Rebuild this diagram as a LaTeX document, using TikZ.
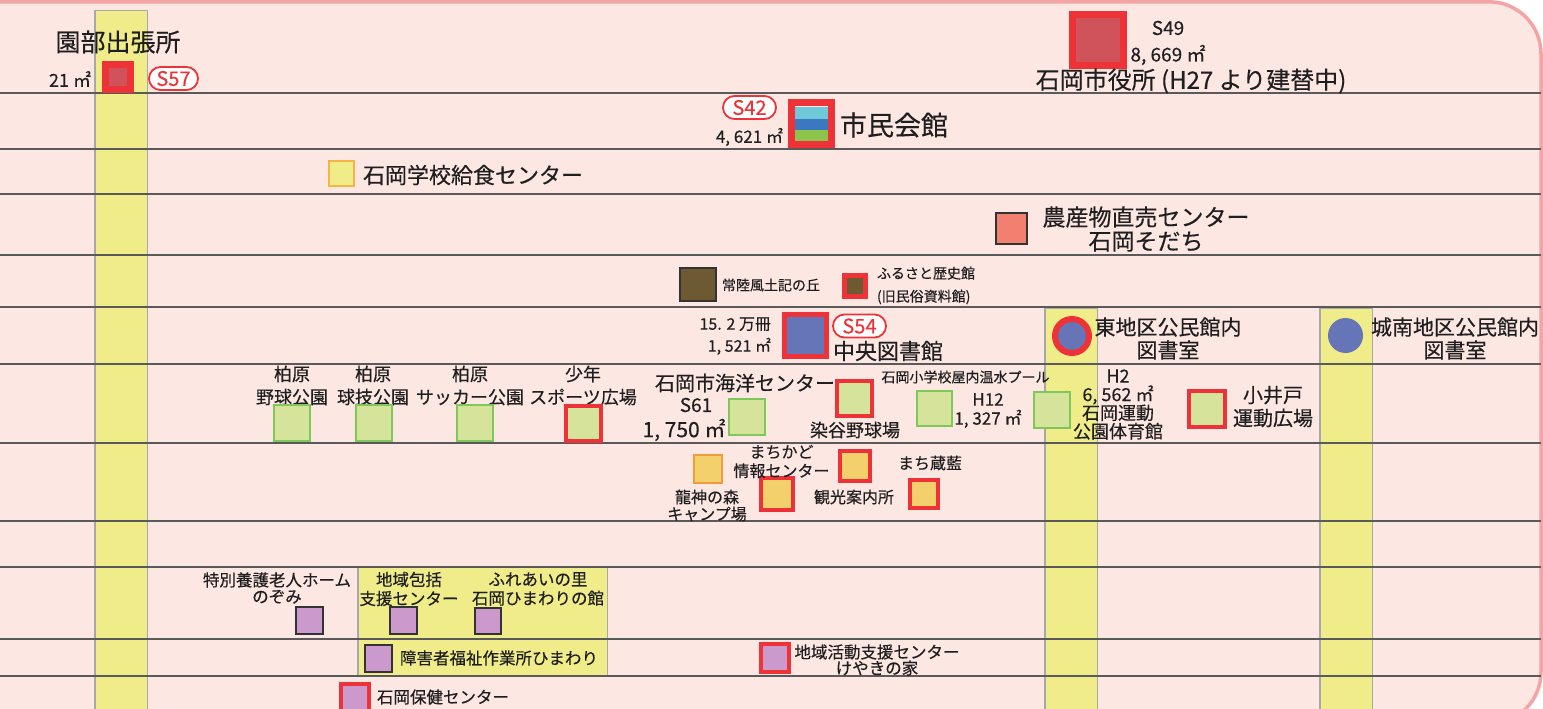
\documentclass[tikz,border=0pt]{standalone}
\usepackage{fontspec}
\setmainfont{Noto Sans CJK JP}[FakeBold=0.35]
\usepackage{xcolor}
\usepackage{tikz}
\usetikzlibrary{shapes.geometric}

\definecolor{bgpink}{HTML}{FCE7E3}
\definecolor{edgepink}{HTML}{F4A4A4}
\definecolor{gridgray}{HTML}{5A5A5A}
\definecolor{colyellow}{HTML}{F0EC8A}
\definecolor{colgray}{HTML}{A8A8A8}
\definecolor{mred}{HTML}{EE3338}
\definecolor{dred}{HTML}{D0525A}
\definecolor{lgreen}{HTML}{D6E49B}
\definecolor{mgreen}{HTML}{7DC75B}
\definecolor{gold}{HTML}{F3D06C}
\definecolor{morange}{HTML}{F39A3A}
\definecolor{lorange}{HTML}{F5B540}
\definecolor{mpurple}{HTML}{CC99CC}
\definecolor{dbrown}{HTML}{6E5A32}
\definecolor{lblue}{HTML}{6674B8}
\definecolor{salmon}{HTML}{F28070}
\definecolor{scyan}{HTML}{6ECAD8}
\definecolor{sblue}{HTML}{3B78C0}
\definecolor{sgreen}{HTML}{8CC44C}
\definecolor{darkedge}{HTML}{333333}

\begin{document}
\begin{tikzpicture}[x=1pt,y=-1pt,
	every node/.style={inner sep=0pt,outer sep=0pt,text=black!88},
	lbl/.style={font=\fontsize{#1}{#1}\selectfont,align=center},
	lbls/.style 2 args={font=\fontsize{#1}{#2}\selectfont,align=center},
	sqr/.style={draw,line width=2pt,minimum size=#1},
	redsqr/.style={draw=mred,line width=4pt,minimum size=#1},
	badge/.style={draw=mred,fill=white,line width=1.8pt,rounded corners=11.5pt,text=mred,
		font=\fontsize{20}{20}\selectfont,minimum width=#1,minimum height=23pt},
	gridline/.style={draw=gridgray,line width=2pt},
	column/.style={draw=colgray,fill=colyellow,line width=1.5pt}]
	\useasboundingbox (0,0) rectangle (1543,709);
	\clip (0,0) rectangle (1543,709);
	\fill[white] (0,0) rectangle (1543,709);
	\draw[edgepink,line width=3.5pt,fill=bgpink,rounded corners=52pt] (-80,1.8) rectangle (1541,724);
	% yellow bands
	\draw[column] (94.75,10.75) rectangle (147.25,730);
	\draw[column] (1044.75,308) rectangle (1097.25,730);
	\draw[column] (1319.75,308) rectangle (1372.25,730);
	\draw[column] (357.75,567) rectangle (607.25,676);
	\foreach \y in {93,149,194,255,307,364,443,521,567,639,676}
		\draw[gridline] (0,\y) -- (1541,\y);

	% row 1
	\node[lbl=25] (sonobe) at (118,42) {園部出張所};
	\node[lbl=18,anchor=east] (sonobeArea) at (91,79) {21 ㎡};
	\node[sqr=25,draw=mred,line width=7pt,fill=dred] (sonobeBox) at (118,77) {};
	\node[badge=49] (s57) at (173.5,78.5) {S57};
	\node[sqr=51,draw=mred,line width=7pt,fill=dred] (cityhallBox) at (1098,40) {};
	\node[lbl=19] (s49) at (1168,28) {S49};
	\node[lbl=19] (cityhallArea) at (1168,55) {8, 669 ㎡};
	\node[lbl=24] (cityhall) at (1191,81) {石岡市役所 (H27 より建替中)};

	% row 2
	\node[badge=53] (s42) at (749.5,107.5) {S42};
	\node[lbl=17,anchor=east] (civicArea) at (783,137) {4, 621 ㎡};
	\fill[scyan] (795,107) rectangle (828,119);
	\fill[sblue] (795,119) rectangle (828,130);
	\fill[sgreen] (795,130) rectangle (828,141);
	\node[draw=mred,line width=7pt,minimum width=40pt,minimum height=42pt] (civicBox) at (811.5,123.5) {};
	\node[lbl=27,anchor=west] (civic) at (840,125) {市民会館};

	% row 3
	\node[sqr=25,draw=lorange,fill=colyellow] (kyushokuBox) at (341.5,173.5) {};
	\node[lbl=22,anchor=west] (kyushoku) at (363,175) {石岡学校給食センター};

	% row 4
	\node[sqr=31,draw=darkedge,fill=salmon] (sodachiBox) at (1011.5,228.5) {};
	\node[lbls={23}{24}] (sodachi) at (1146,229) {農産物直売センター\\石岡そだち};

	% row 5
	\node[draw=darkedge,line width=2pt,fill=dbrown,minimum width=36pt,minimum height=33pt] (fudokiBox) at (698,284.5) {};
	\node[lbl=14,anchor=west] (fudoki) at (722,285) {常陸風土記の丘};
	\node[sqr=21,draw=mred,line width=5pt,fill=dbrown] (furusatoBox) at (855,286) {};
	\node[lbls={14}{23},anchor=west,align=left] (furusato) at (877,285.5) {ふるさと歴史館\\(旧民俗資料館)};

	% row 6
	\node[sqr=42,draw=mred,line width=5pt,fill=lblue] (libraryBox) at (805.5,335.5) {};
	\node[lbls={16}{22},anchor=east,align=right] (libraryInfo) at (771,336) {15. 2 万冊\\1, 521 ㎡};
	\node[badge=53] (s54) at (859.5,326) {S54};
	\node[lbl=22,anchor=west] (library) at (833,351) {中央図書館};
	\node[circle,draw=mred,line width=6pt,fill=lblue,minimum size=34pt] (higashiDot) at (1072,336) {};
	\node[lbls={21}{23}] (higashi) at (1168,338.5) {東地区公民館内\\図書室};
	\node[circle,fill=lblue,minimum size=35pt] (jonanDot) at (1345.5,335.5) {};
	\node[lbls={21}{23}] (jonan) at (1455,338.5) {城南地区公民館内\\図書室};

	% row 7
	\node[lbls={18}{23}] (kashiwaA) at (292,385.5) {柏原\\野球公園};
	\node[sqr=36,draw=mgreen,fill=lgreen] (kashiwaABox) at (292,423) {};
	\node[lbls={18}{23}] (kashiwaB) at (373,385.5) {柏原\\球技公園};
	\node[sqr=36,draw=mgreen,fill=lgreen] (kashiwaBBox) at (373.5,423) {};
	\node[lbls={18}{23}] (kashiwaC) at (470,385.5) {柏原\\サッカー公園};
	\node[sqr=36,draw=mgreen,fill=lgreen] (kashiwaCBox) at (474.5,423) {};
	\node[lbls={18}{23}] (shonen) at (583,385.5) {少年\\スポーツ広場};
	\node[redsqr=35,fill=lgreen] (shonenBox) at (583.5,423) {};
	\node[lbl=20] (kaiyo) at (745,383) {石岡市海洋センター};
	\node[lbl=19] (kaiyoYear) at (696,405) {S61};
	\node[lbl=21] (kaiyoArea) at (684,430) {1, 750 ㎡};
	\node[sqr=36,draw=mgreen,fill=lgreen] (kaiyoBox) at (747,417) {};
	\node[redsqr=35,fill=lgreen] (someyaBox) at (854.5,398) {};
	\node[lbl=18] (someya) at (855,430) {染谷野球場};
	\node[lbl=14] (pool) at (965.5,377) {石岡小学校屋内温水プール};
	\node[sqr=35,draw=mgreen,fill=lgreen] (poolBox) at (934.5,408.5) {};
	\node[lbls={17}{19}] (poolInfo) at (988,410.5) {H12\\1, 327 ㎡};
	\node[sqr=36,draw=mgreen,fill=lgreen] (gymBox) at (1052,410) {};
	\node[lbls={18}{18.5}] (gym) at (1118,404.5) {H2\\6, 562 ㎡\\石岡運動\\公園体育館};
	\node[redsqr=36,fill=lgreen] (koidoBox) at (1207,409) {};
	\node[lbls={20}{23}] (koido) at (1273,406.5) {小井戸\\運動広場};

	% row 8
	\node[sqr=28,draw=morange,fill=gold] (ryujinBox) at (708,469) {};
	\node[lbls={16}{17}] (ryujin) at (707,505.5) {龍神の森\\キャンプ場};
	\node[redsqr=32,fill=gold] (machikadoBox) at (777,494) {};
	\node[lbls={16}{19}] (machikado) at (781.5,461.5) {まちかど\\情報センター};
	\node[redsqr=30,fill=gold] (kankoBox) at (855,466) {};
	\node[lbl=16] (kanko) at (854,497) {観光案内所};
	\node[redsqr=28,fill=gold] (aiBox) at (924,494) {};
	\node[lbl=16] (ai) at (930,463) {まち蔵藍};

	% rows 10-12
	\node[lbls={16.5}{16.5}] (nozomi) at (277,588) {特別養護老人ホーム\\のぞみ};
	\node[sqr=27,draw=darkedge,fill=mpurple] (nozomiBox) at (309.5,620.5) {};
	\node[lbls={16.5}{19}] (hokatsu) at (409,589) {地域包括\\支援センター};
	\node[sqr=27,draw=darkedge,fill=mpurple] (hokatsuBox) at (403.5,620.5) {};
	\node[lbls={16.5}{19}] (fureai) at (538,589) {ふれあいの里\\石岡ひまわりの館};
	\node[sqr=26,draw=darkedge,fill=mpurple] (fureaiBox) at (488,620.5) {};
	\node[sqr=27,draw=darkedge,fill=mpurple] (himawariBox) at (378.5,658) {};
	\node[lbl=16.5,anchor=west] (himawari) at (400,658) {障害者福祉作業所ひまわり};
	\node[redsqr=28,fill=mpurple] (keyakiBox) at (775,658) {};
	\node[lbls={16.5}{16}] (keyaki) at (877,660) {地域活動支援センター\\けやきの家};
	\node[redsqr=28,fill=mpurple] (hokenBox) at (355,698) {};
	\node[lbl=16.5,anchor=west] (hoken) at (377,697) {石岡保健センター};
\end{tikzpicture}
\end{document}
